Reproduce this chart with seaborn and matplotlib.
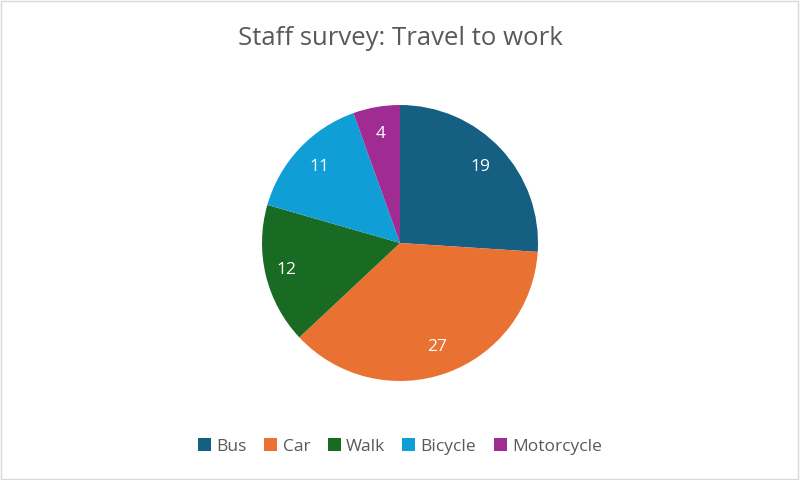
import matplotlib
matplotlib.use("Agg")
import matplotlib.pyplot as plt
import seaborn as sns
from matplotlib.patches import Rectangle

# data
modes = ["Bus", "Car", "Walk", "Bicycle", "Motorcycle"]
counts = [19, 27, 12, 11, 4]
colours = ["#156082", "#E97132", "#196B24", "#0F9ED5", "#A02B93"]

sns.set_theme(style="white")
plt.rcParams['font.family'] = ['Open Sans', 'DejaVu Sans']

fig = plt.figure(figsize=(8, 4.8), dpi=100)
fig.patch.set_facecolor("white")

# light frame round the chart
fig.add_artist(Rectangle((0.001, 0.002), 0.997, 0.995, transform=fig.transFigure,
                         fill=False, edgecolor="#D9D9D9", linewidth=1))

fig.text(0.5, 0.92, "Staff survey: Travel to work", ha="center", va="center",
         fontsize=18.5, color="#595959")

ax = fig.add_axes([262 / 800, 99 / 480, 276 / 800, 276 / 480])
pal = sns.color_palette(colours)
wedges, texts = ax.pie(counts, colors=pal, startangle=90, counterclock=False,
                       labels=[str(c) for c in counts], labeldistance=0.8,
                       wedgeprops=dict(linewidth=0))
for t in texts:
    t.set_color("white")
    t.set_fontsize(12.5)
    t.set_ha("center")
    t.set_va("center")
# the "12" label sits a bit further out in the original
texts[2].set_position((texts[2].get_position()[0] * 1.06, texts[2].get_position()[1] * 1.06))
ax.set_xlim(-1, 1)
ax.set_ylim(-1, 1)
ax.set_aspect("equal")

fig.legend(wedges, modes, loc="center", bbox_to_anchor=(0.5, 0.07), ncol=5,
           frameon=False, fontsize=12.5, handlelength=0.75, handleheight=0.75,
           handletextpad=0.3, columnspacing=1.0, labelcolor="#595959")

fig.savefig("out.png", dpi=100)
plt.close(fig)
